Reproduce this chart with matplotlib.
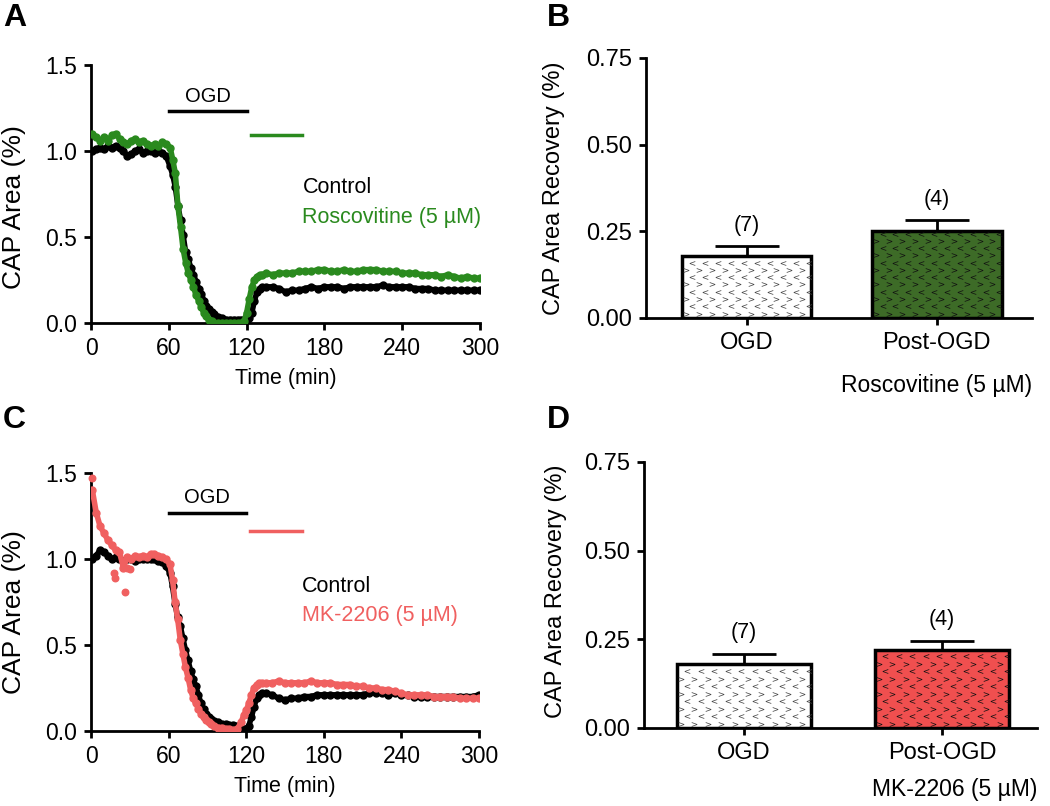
import matplotlib
matplotlib.use("Agg")
import matplotlib.pyplot as plt
import numpy as np

plt.rcParams['font.family'] = ['Liberation Sans', 'DejaVu Sans']

# ---- time courses (min, fraction of baseline CAP area) ----
t = [1, 4, 7, 10, 13, 16, 19, 22, 25, 28, 31, 34, 37, 40, 43, 46, 49, 52, 55, 58,
     61, 63, 65, 67, 69, 71, 73, 75, 77, 79, 81, 83, 85, 87, 89, 91, 93, 95,
     98, 101, 104, 107, 110, 113, 116, 118, 120, 122, 124, 126, 128, 130, 132, 135,
     140, 145, 150, 155, 160, 165, 170, 175, 180, 185, 190, 195, 200, 205, 210, 215,
     220, 225, 230, 235, 240, 245, 250, 255, 260, 265, 270, 275, 280, 285, 290, 295, 300]

ctrl_a = [1.00, 1.01, 1.02, 1.01, 1.03, 1.02, 1.03, 1.02, 1.00, 0.97, 0.98, 1.00, 1.01, 0.99, 1.00, 1.00, 0.99, 1.00, 0.99, 0.97,
          0.91, 0.86, 0.79, 0.68, 0.60, 0.51, 0.41, 0.37, 0.32, 0.28, 0.24, 0.20, 0.17, 0.13, 0.10, 0.08, 0.065, 0.05,
          0.035, 0.03, 0.02, 0.02, 0.02, 0.02, 0.02, 0.02, 0.02, 0.03, 0.06, 0.13, 0.18, 0.20, 0.21, 0.21,
          0.21, 0.20, 0.18, 0.19, 0.19, 0.20, 0.21, 0.20, 0.21, 0.21, 0.21, 0.20, 0.21, 0.21, 0.21, 0.21,
          0.21, 0.22, 0.21, 0.21, 0.21, 0.21, 0.20, 0.20, 0.20, 0.19, 0.19, 0.19, 0.19, 0.19, 0.19, 0.19, 0.19]

rosc = [1.10, 1.08, 1.06, 1.08, 1.06, 1.09, 1.10, 1.07, 1.05, 1.04, 1.06, 1.07, 1.05, 1.06, 1.04, 1.03, 1.04, 1.03, 1.05, 1.04,
        1.02, 0.95, 0.87, 0.68, 0.56, 0.43, 0.35, 0.29, 0.25, 0.21, 0.16, 0.13, 0.09, 0.06, 0.04, 0.02, 0.01, 0.00,
        0.00, 0.00, 0.00, 0.00, 0.00, 0.00, 0.00, 0.01, 0.06, 0.14, 0.21, 0.25, 0.27, 0.28, 0.28, 0.29,
        0.28, 0.29, 0.29, 0.29, 0.30, 0.30, 0.30, 0.31, 0.31, 0.30, 0.30, 0.31, 0.30, 0.30, 0.31, 0.31,
        0.31, 0.30, 0.30, 0.30, 0.29, 0.29, 0.29, 0.28, 0.28, 0.28, 0.27, 0.28, 0.27, 0.26, 0.27, 0.26, 0.26]

ctrl_c = [1.00, 1.02, 1.05, 1.04, 1.02, 1.00, 1.01, 1.00, 0.99, 1.00, 1.00, 0.99, 1.00, 1.00, 1.00, 1.00, 1.00, 0.99, 0.98, 0.96,
          0.92, 0.84, 0.74, 0.66, 0.61, 0.54, 0.47, 0.41, 0.35, 0.30, 0.26, 0.21, 0.16, 0.13, 0.10, 0.08, 0.07, 0.06,
          0.05, 0.04, 0.04, 0.035, 0.035, 0.03, 0.02, 0.01, 0.01, 0.03, 0.08, 0.14, 0.19, 0.21, 0.22, 0.22,
          0.21, 0.19, 0.18, 0.19, 0.19, 0.20, 0.20, 0.21, 0.21, 0.21, 0.21, 0.21, 0.21, 0.21, 0.21, 0.22,
          0.22, 0.22, 0.21, 0.22, 0.21, 0.21, 0.20, 0.20, 0.20, 0.20, 0.20, 0.20, 0.20, 0.20, 0.20, 0.20, 0.21]

mk = [1.40, 1.27, 1.19, 1.15, 1.11, 1.08, 1.05, 1.04, 0.95, 1.01, 1.00, 1.02, 1.01, 1.02, 1.01, 1.03, 1.03, 1.02, 1.01, 1.00,
      0.97, 0.88, 0.75, 0.65, 0.53, 0.45, 0.37, 0.31, 0.24, 0.19, 0.16, 0.13, 0.10, 0.08, 0.065, 0.05, 0.04, 0.03,
      0.02, 0.02, 0.01, 0.01, 0.005, 0.01, 0.05, 0.09, 0.12, 0.16, 0.21, 0.25, 0.27, 0.28, 0.28, 0.28,
      0.28, 0.29, 0.28, 0.28, 0.28, 0.28, 0.29, 0.28, 0.28, 0.28, 0.27, 0.27, 0.27, 0.26, 0.26, 0.25,
      0.25, 0.24, 0.24, 0.23, 0.22, 0.21, 0.21, 0.21, 0.21, 0.20, 0.20, 0.20, 0.20, 0.19, 0.19, 0.19, 0.19]

# stray early MK-2206 points
mk_stray_t = [0.5, 18, 18.5, 26, 28, 30]
mk_stray_v = [1.47, 0.92, 0.89, 0.81, 0.95, 0.94]

# ---- recovery bars ----
groups = ['OGD', 'Post-OGD']
rec_b = [0.18, 0.25]
sem_b = [0.027, 0.032]
n_b = ['(7)', '(4)']
rec_d = [0.18, 0.22]
sem_d = [0.030, 0.025]
n_d = ['(7)', '(4)']

GREEN = '#2a8a1e'
GREEN_BAR = '#3d6b27'
RED = '#f06060'
RED_BAR = '#f04f4f'

fig = plt.figure(figsize=(10.5, 8.06), dpi=100)


def style_axes(ax, tick_size):
    for s in ['top', 'right']:
        ax.spines[s].set_visible(False)
    for s in ['left', 'bottom']:
        ax.spines[s].set_linewidth(2.0)
    ax.tick_params(width=2.0, length=5, labelsize=tick_size, direction='out', pad=5)


def trace_panel(ax, ctrl, drug, color, drug_label, ogd_y, bar_y, leg_y, ylab_y):
    style_axes(ax, 16.5)
    ax.plot(t, ctrl, color='black', lw=4, marker='o', ms=5, zorder=3,
            solid_capstyle='round')
    ax.plot(t, drug, color=color, lw=4, marker='o', ms=5, zorder=4,
            solid_capstyle='round')
    ax.set_xlim(0, 300)
    ax.set_ylim(0, 1.5)
    ax.set_xticks([0, 60, 120, 180, 240, 300])
    ax.set_yticks([0.0, 0.5, 1.0, 1.5])
    ax.set_yticklabels(['0.0', '0.5', '1.0', '1.5'])
    ax.set_xlabel('Time (min)', fontsize=15.5, labelpad=6)
    ax.set_ylabel('CAP Area (%)', fontsize=19)
    ax.yaxis.set_label_coords(-0.167, ylab_y)
    ax.plot([60, 120], [ogd_y, ogd_y], color='black', lw=2.5, clip_on=False)
    ax.text(90, ogd_y + 0.03, 'OGD', ha='center', va='bottom', fontsize=14.5)
    ax.plot([123, 163], [bar_y, bar_y], color=color, lw=2.5, clip_on=False)
    ax.text(163, leg_y, 'Control', ha='left', va='center', fontsize=15.5,
            color='black')
    ax.text(163, leg_y - 0.17, drug_label, ha='left', va='center',
            fontsize=15.5, color=color)
    return ax


def chevrons(ax, bar, color):
    # small < > pattern filling the bar, clipped to it
    x0, w, h = bar.get_x(), bar.get_width(), bar.get_height()
    dx, dy = 0.068, 0.021
    row = 0
    y = dy * 0.6
    while y < h:
        xs = np.arange(x0 + dx * (0.3 if row % 2 == 0 else 0.8), x0 + w, dx)
        m = '$>$' if row % 2 == 0 else '$<$'
        sc = ax.scatter(xs, np.full(len(xs), y), marker=m, s=16, color=color,
                        linewidths=0, zorder=3)
        sc.set_clip_path(bar)
        y += dy
        row += 1


def bar_panel(ax, vals, errs, ns, fill, chev, sub_label, xlim, ylab_xy, sub_y):
    style_axes(ax, 17)
    x = np.arange(len(groups))
    bars = ax.bar(x, vals, width=0.68, color=['white', fill], edgecolor='black',
                  linewidth=2.5, zorder=2)
    for b, c in zip(bars, chev):
        chevrons(ax, b, c)
    ax.errorbar(x, vals, yerr=[np.zeros(len(vals)), errs], fmt='none',
                ecolor='black', elinewidth=2.0, capsize=23, capthick=2.0, zorder=1)
    for xi, v, e, n in zip(x, vals, errs, ns):
        ax.text(xi, v + e + 0.06, n, ha='center', va='center', fontsize=15.5)
    ax.set_xlim(*xlim)
    ax.set_ylim(0, 0.75)
    ax.set_yticks([0.0, 0.25, 0.5, 0.75])
    ax.set_yticklabels(['0.00', '0.25', '0.50', '0.75'])
    ax.set_xticks(x)
    ax.set_xticklabels(groups, fontsize=17)
    ax.set_ylabel('CAP Area Recovery (%)', fontsize=17)
    ax.yaxis.set_label_coords(*ylab_xy)
    ax.text(1.0, sub_y, sub_label, transform=ax.transAxes, ha='right',
            va='center', fontsize=16.5)


ax_a = fig.add_axes([0.0867, 0.5993, 0.3705, 0.3201])
trace_panel(ax_a, ctrl_a, rosc, GREEN, 'Roscovitine (5 µM)', 1.23, 1.093, 0.785, 0.45)

ax_c = fig.add_axes([0.0867, 0.0931, 0.3695, 0.3201])
trace_panel(ax_c, ctrl_c, mk, RED, 'MK-2206 (5 µM)', 1.27, 1.16, 0.84, 0.46)
ax_c.scatter(mk_stray_t, mk_stray_v, s=22, color=RED, zorder=4, clip_on=False)

ax_b = fig.add_axes([0.6152, 0.6055, 0.3676, 0.3226])
bar_panel(ax_b, rec_b, sem_b, n_b, GREEN_BAR, ['#444444', '#111111'],
          'Roscovitine (5 µM)', (-0.53, 1.5), (-0.21, 0.5), -0.26)

ax_d = fig.add_axes([0.6133, 0.0968, 0.3743, 0.33])
bar_panel(ax_d, rec_d, sem_d, n_d, RED_BAR, ['#444444', '#111111'],
          'MK-2206 (5 µM)', (-0.505, 1.48), (-0.196, 0.515), -0.23)

for lab, (px, py) in zip('ABCD', [(3, 3), (547, 3), (3, 405), (547, 405)]):
    fig.text(px / 1050, 1 - py / 806, lab, fontsize=23, fontweight='bold',
             ha='left', va='top')

fig.savefig('out.png', dpi=100)
